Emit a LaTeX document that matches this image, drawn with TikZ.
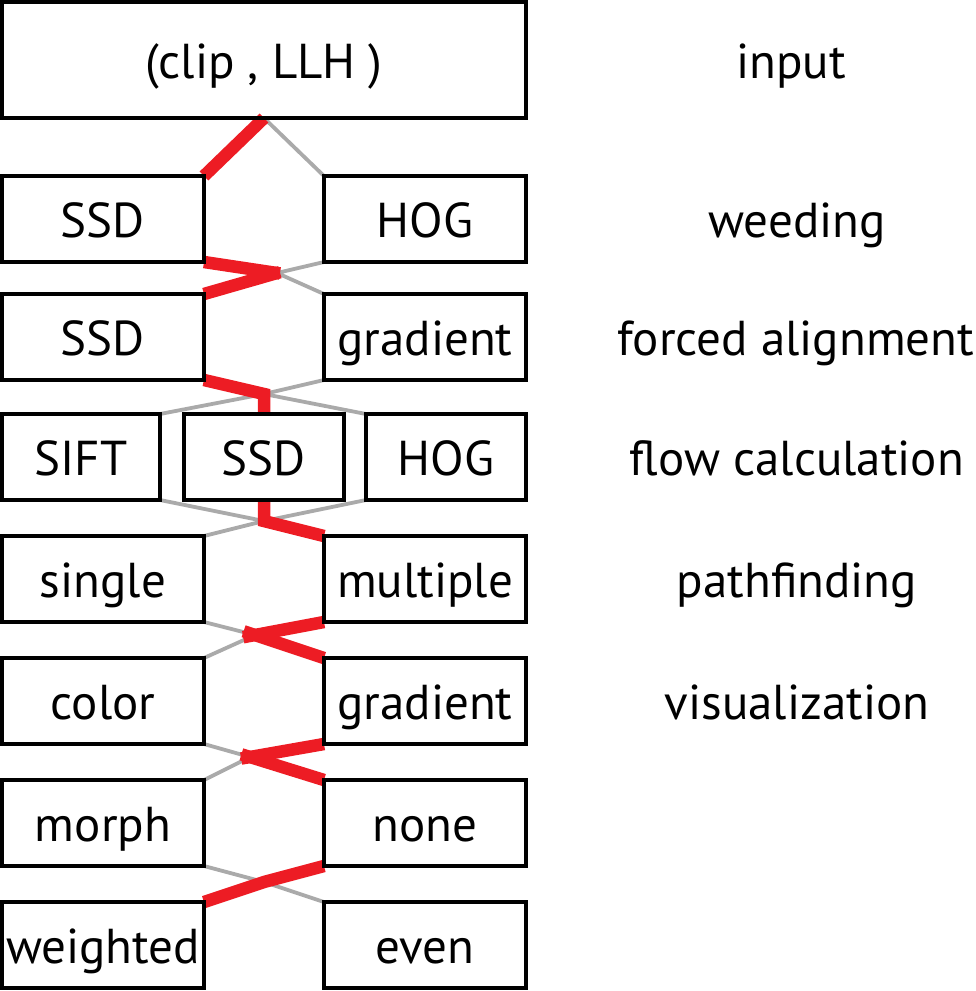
\documentclass[tikz,border=0pt]{standalone}
\usepackage{fontspec}
\setmainfont{PT Sans}
\usetikzlibrary{calc}
\definecolor{pathred}{HTML}{ED1C24}
\definecolor{edgegray}{HTML}{AAAAAA}
\newcommand\ctext[1]{\makebox[0pt]{#1}}
\begin{document}
\begin{tikzpicture}[x=1pt,y=-1pt,
  txt/.style={font=\fontsize{49}{58}\selectfont},
  box/.style={txt,draw=black,line width=4pt,rectangle,inner sep=0pt,outer sep=0pt,
    text height=36pt,text depth=0pt,minimum height=86pt,minimum width=202pt},
  lbl/.style={txt,inner sep=0pt,text height=36pt,text depth=0pt},
  gedge/.style={draw=edgegray,line width=3.8pt},
  redge/.style={draw=pathred,line width=12.5pt,line join=miter},
]
\useasboundingbox (0,0) rectangle (976,991);
% junctions
\coordinate (j1) at (277,273);
\coordinate (j2) at (264,394);
\coordinate (j3) at (264,521);
\coordinate (j4) at (255,635);
\coordinate (j5) at (250,757);
\coordinate (j6) at (264,882);
% boxes
\node[box,minimum width=524pt,minimum height=116pt] (clip) at (264,60) {\ctext{(clip , LLH )}};
\node[box] (ssdA) at (103,219) {\ctext{SSD}};
\node[box] (hogA) at (425,219) {\ctext{HOG}};
\node[box] (ssdB) at (103,337) {\ctext{SSD}};
\node[box] (gradB) at (425,337) {\ctext{gradient}};
\node[box,minimum width=158pt] (sift) at (81,457) {\ctext{SIFT}};
\node[box,minimum width=160pt] (ssdC) at (264,457) {\ctext{SSD}};
\node[box,minimum width=160pt] (hogC) at (446,457) {\ctext{HOG}};
\node[box] (single) at (103,579) {\ctext{single}};
\node[box] (multiple) at (425,579) {\ctext{multiple}};
\node[box] (color) at (103,701) {\ctext{color}};
\node[box] (gradV) at (425,701) {\ctext{gradient}};
\node[box] (morph) at (103,823) {\ctext{morph}};
\node[box] (none) at (425,823) {\ctext{none}};
\node[box] (weighted) at (103,945) {\ctext{weighted}};
\node[box] (even) at (425,945) {\ctext{even}};
% labels
\node[lbl] (linput) at (791,60) {input};
\node[lbl] (lweed) at (797,219) {weeding};
\node[lbl] (lforce) at (796,337) {forced alignment};
\node[lbl] (lflow) at (797,457) {flow calculation};
\node[lbl] (lpath) at (797,579) {pathfinding};
\node[lbl] (lvis) at (797,701) {visualization};
% gray edges
\draw[gedge] (clip.south) -- (hogA.north west);
\draw[gedge] (hogA.south west) -- (j1) -- (gradB.north west);
\draw[gedge] (gradB.south west) -- (j2);
\draw[gedge] (j2) -- (sift.north east);
\draw[gedge] (j2) -- (hogC.north west);
\draw[gedge] (sift.south east) -- (j3);
\draw[gedge] (hogC.south west) -- (j3);
\draw[gedge] (j3) -- (single.north east);
\draw[gedge] (single.south east) -- (j4) -- (color.north east);
\draw[gedge] (color.south east) -- (j5) -- (morph.north east);
\draw[gedge] (morph.south east) -- (j6) -- (even.north west);
% red path
\draw[redge] (clip.south) -- (ssdA.north east);
\draw[redge,shorten >=-3pt] (ssdA.south east) -- (j1);
\draw[redge,shorten <=-3pt] (j1) -- (ssdB.north east);
\draw[redge] (ssdB.south east) -- (j2) -- (ssdC.north);
\draw[redge] (ssdC.south) -- (j3) -- (multiple.north west);
\draw[redge,shorten >=-12pt] (multiple.south west) -- (j4);
\draw[redge,shorten <=-12pt] (j4) -- (gradV.north west);
\draw[redge,shorten >=-9pt] (gradV.south west) -- (j5);
\draw[redge,shorten <=-9pt] (j5) -- (none.north west);
\draw[redge] (none.south west) -- (j6) -- (weighted.north east);
% redraw box borders on top
\foreach \b in {clip,ssdA,hogA,ssdB,gradB,sift,ssdC,hogC,single,multiple,color,gradV,morph,none,weighted,even}
  \draw[line width=4pt] (\b.north west) rectangle (\b.south east);
\end{tikzpicture}
\end{document}
